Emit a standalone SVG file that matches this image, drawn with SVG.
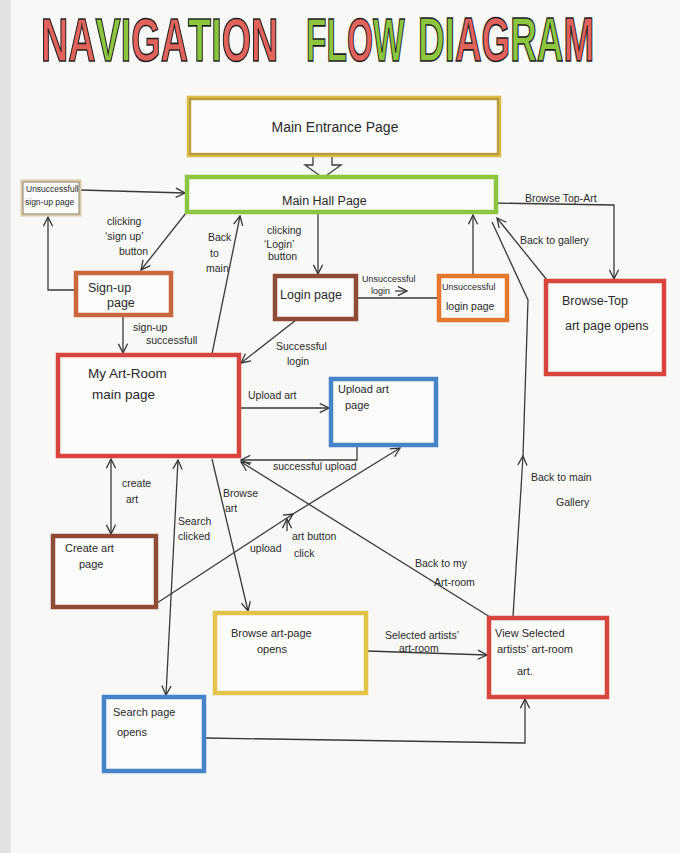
<svg xmlns="http://www.w3.org/2000/svg" width="680" height="853" viewBox="0 0 680 853">
<defs>
<marker id="ah" viewBox="0 0 12 12" refX="11" refY="6" markerWidth="11" markerHeight="11" markerUnits="userSpaceOnUse" orient="auto-start-reverse">
<path d="M1,1 L11,6 L1,11" fill="none" stroke="#333" stroke-width="1.4"/>
</marker>
<style>
.bg{fill:#f8f8f7}
.box{fill:#fbfbfa;stroke-width:4.5}
.inner{fill:none;stroke:#3a3a3a;stroke-width:0.8;opacity:0.55}
.yel{stroke:#dcb845}
.grn{stroke:#8cc63f}
.tan{stroke:#d9ccaa;stroke-width:3}
.org{stroke:#c8683c}
.brn{stroke:#8e4b36}
.ora{stroke:#e4782e}
.red{stroke:#d8443e}
.blu{stroke:#4683c8}
.ybr{stroke:#e2c44a}
.t{font-family:"Liberation Sans",Arial,sans-serif;fill:#2a2a2a}
.n{font-size:12.5px}
.s{font-size:11px}
.l{font-size:10.5px}
.c line,.c path,.c polyline{fill:none;stroke:#3a3a3a;stroke-width:1.3}
.ttl{font-family:"Liberation Sans",Arial,sans-serif;font-weight:bold;font-size:62px;stroke:#1e1e1e;stroke-width:1.6}
.r{fill:#e2625c}
.g{fill:#8cc63f}
</style>
</defs>
<rect class="bg" x="0" y="0" width="680" height="853"/>
<rect x="0" y="0" width="11" height="853" fill="#e2e2e2"/>

<g id="title">
<text class="ttl" transform="translate(41,61) scale(0.61,1)" x="0" y="0"><tspan class="r">NA</tspan><tspan class="g">VI</tspan><tspan class="r">GA</tspan><tspan class="g">TI</tspan><tspan class="r">ON</tspan></text>
<text class="ttl" transform="translate(306,61) scale(0.54,1)" x="0" y="0"><tspan class="g">FL</tspan><tspan class="r">O</tspan><tspan class="g">W</tspan></text>
<text class="ttl" transform="translate(418,61) scale(0.595,1)" x="0" y="0"><tspan class="g">DI</tspan><tspan class="r">AG</tspan><tspan class="g">RA</tspan><tspan class="r">M</tspan></text>
</g>

<g id="connectors" class="c">
<path d="M313,156 L313,165 L305,165 L323,178 L341,165 L332,165 L332,156" stroke-width="1.2"/>
<line x1="80" y1="190" x2="185" y2="193" marker-end="url(#ah)"/>
<line x1="186" y1="213" x2="141" y2="270" marker-end="url(#ah)"/>
<polyline points="75,290 48,290 48,217" marker-end="url(#ah)"/>
<line x1="123" y1="315" x2="123" y2="353" marker-end="url(#ah)"/>
<line x1="212" y1="354" x2="240" y2="216" marker-end="url(#ah)"/>
<line x1="318" y1="213" x2="318" y2="274" marker-end="url(#ah)"/>
<line x1="356" y1="298" x2="438" y2="298"/>
<line x1="395" y1="291" x2="407" y2="291" marker-end="url(#ah)" stroke-width="1"/>
<line x1="473" y1="275" x2="473" y2="215" marker-end="url(#ah)"/>
<line x1="296" y1="320" x2="241" y2="363" marker-end="url(#ah)"/>
<polyline points="492,203 614,205 614,279" marker-end="url(#ah)"/>
<line x1="547" y1="280" x2="497" y2="218" marker-end="url(#ah)"/>
<line x1="513" y1="617" x2="523" y2="456" marker-end="url(#ah)"/>
<polyline points="523,456 528,300 492,222"/>
<line x1="240" y1="408" x2="329" y2="408" marker-end="url(#ah)"/>
<polyline points="357,447 357,460 241,460" marker-end="url(#ah)"/>
<line x1="111" y1="459" x2="111" y2="534" marker-start="url(#ah)" marker-end="url(#ah)"/>
<line x1="178" y1="460" x2="166" y2="695" marker-start="url(#ah)" marker-end="url(#ah)"/>
<line x1="212" y1="459" x2="248" y2="611" marker-end="url(#ah)"/>
<line x1="157" y1="603" x2="293" y2="514" marker-end="url(#ah)"/>
<line x1="293" y1="514" x2="400" y2="448" marker-end="url(#ah)"/>
<line x1="287" y1="531" x2="287" y2="519" marker-end="url(#ah)" stroke-width="1"/>
<line x1="490" y1="617" x2="241" y2="462" marker-end="url(#ah)"/>
<line x1="367" y1="651" x2="487" y2="655" marker-end="url(#ah)"/>
<polyline points="205,738 525,743 525,699" marker-end="url(#ah)"/>

<text class="t l" x="107" y="225">clicking</text>
<text class="t l" x="105" y="240">‘sign up’</text>
<text class="t l" x="119" y="255">button</text>
<text class="t l" x="133" y="331">sign-up</text>
<text class="t l" x="146" y="344">successfull</text>
<text class="t l" x="208" y="241">Back</text>
<text class="t l" x="210" y="257">to</text>
<text class="t l" x="206" y="272">main</text>
<text class="t l" x="267" y="234">clicking</text>
<text class="t l" x="264" y="248">‘Login’</text>
<text class="t l" x="268" y="260">button</text>
<text class="t" x="362" y="282" font-size="9">Unsuccessful</text>
<text class="t" x="371" y="294" font-size="9">login</text>
<text class="t l" x="276" y="350">Successful</text>
<text class="t l" x="287" y="365">login</text>
<text class="t l" x="525" y="202">Browse Top-Art</text>
<text class="t l" x="520" y="244">Back to gallery</text>
<text class="t l" x="531" y="481">Back to main</text>
<text class="t l" x="556" y="506">Gallery</text>
<text class="t l" x="248" y="399">Upload art</text>
<text class="t l" x="273" y="470">successful upload</text>
<text class="t l" x="122" y="487">create</text>
<text class="t l" x="126" y="503">art</text>
<text class="t l" x="223" y="497">Browse</text>
<text class="t l" x="225" y="512">art</text>
<text class="t l" x="178" y="525">Search</text>
<text class="t l" x="178" y="540">clicked</text>
<text class="t l" x="250" y="552">upload</text>
<text class="t l" x="292" y="540">art button</text>
<text class="t l" x="294" y="557">click</text>
<text class="t l" x="415" y="567">Back to my</text>
<text class="t l" x="434" y="586">Art-room</text>
<text class="t l" x="385" y="639">Selected artists’</text>
<text class="t l" x="399" y="652">art-room</text>
</g>

<g id="main-entrance"><rect class="box yel" x="189" y="98" width="310" height="57"/><rect class="inner" x="190" y="99" width="308" height="55"/><text class="t" x="335" y="132" font-size="14" text-anchor="middle">Main Entrance Page</text></g>
<g id="main-hall"><rect class="box grn" x="187" y="177" width="309" height="35"/><text class="t n" x="282" y="205">Main Hall Page</text></g>
<g id="unsuccessful-signup"><rect class="box tan" x="22" y="181" width="58" height="34"/><rect class="inner" x="23" y="182" width="56" height="32"/><text class="t" x="26" y="192" font-size="8.5">Unsuccessfull</text><text class="t" x="25" y="205" font-size="8.5">sign-up page</text></g>
<g id="signup"><rect class="box org" x="76" y="273" width="95" height="42"/><text class="t n" x="88" y="292">Sign-up</text><text class="t n" x="107" y="307">page</text></g>
<g id="login"><rect class="box brn" x="275" y="276" width="81" height="43"/><text class="t n" x="280" y="299">Login page</text></g>
<g id="unsuccessful-login"><rect class="box ora" x="439" y="276" width="68" height="44"/><text class="t" x="442" y="290" font-size="9">Unsuccessful</text><text class="t" x="446" y="310" font-size="10.5">login page</text></g>
<g id="browse-top"><rect class="box red" x="546" y="281" width="118" height="93"/><text class="t n" x="562" y="305">Browse-Top</text><text class="t n" x="565" y="330">art page  opens</text></g>
<g id="my-art-room"><rect class="box red" x="58" y="355" width="181" height="101"/><text class="t" x="88" y="378" font-size="13.5">My Art-Room</text><text class="t" x="92" y="399" font-size="13.5">main page</text></g>
<g id="upload-art"><rect class="box blu" x="331" y="379" width="105" height="66"/><text class="t s" x="338" y="393">Upload art</text><text class="t s" x="345" y="409">page</text></g>
<g id="create-art"><rect class="box brn" x="53" y="536" width="103" height="71"/><text class="t s" x="65" y="552">Create art</text><text class="t s" x="79" y="568">page</text></g>
<g id="browse-art"><rect class="box ybr" x="215" y="613" width="151" height="80"/><text class="t s" x="231" y="637">Browse art-page</text><text class="t s" x="257" y="653">opens</text></g>
<g id="view-selected"><rect class="box red" x="489" y="618" width="118" height="79"/><text class="t s" x="495" y="637">View  Selected</text><text class="t s" x="497" y="653">artists’ art-room</text><text class="t s" x="517" y="675">art.</text></g>
<g id="search"><rect class="box blu" x="104" y="697" width="100" height="74"/><text class="t s" x="113" y="716">Search  page</text><text class="t s" x="117" y="736">opens</text></g>
</svg>
